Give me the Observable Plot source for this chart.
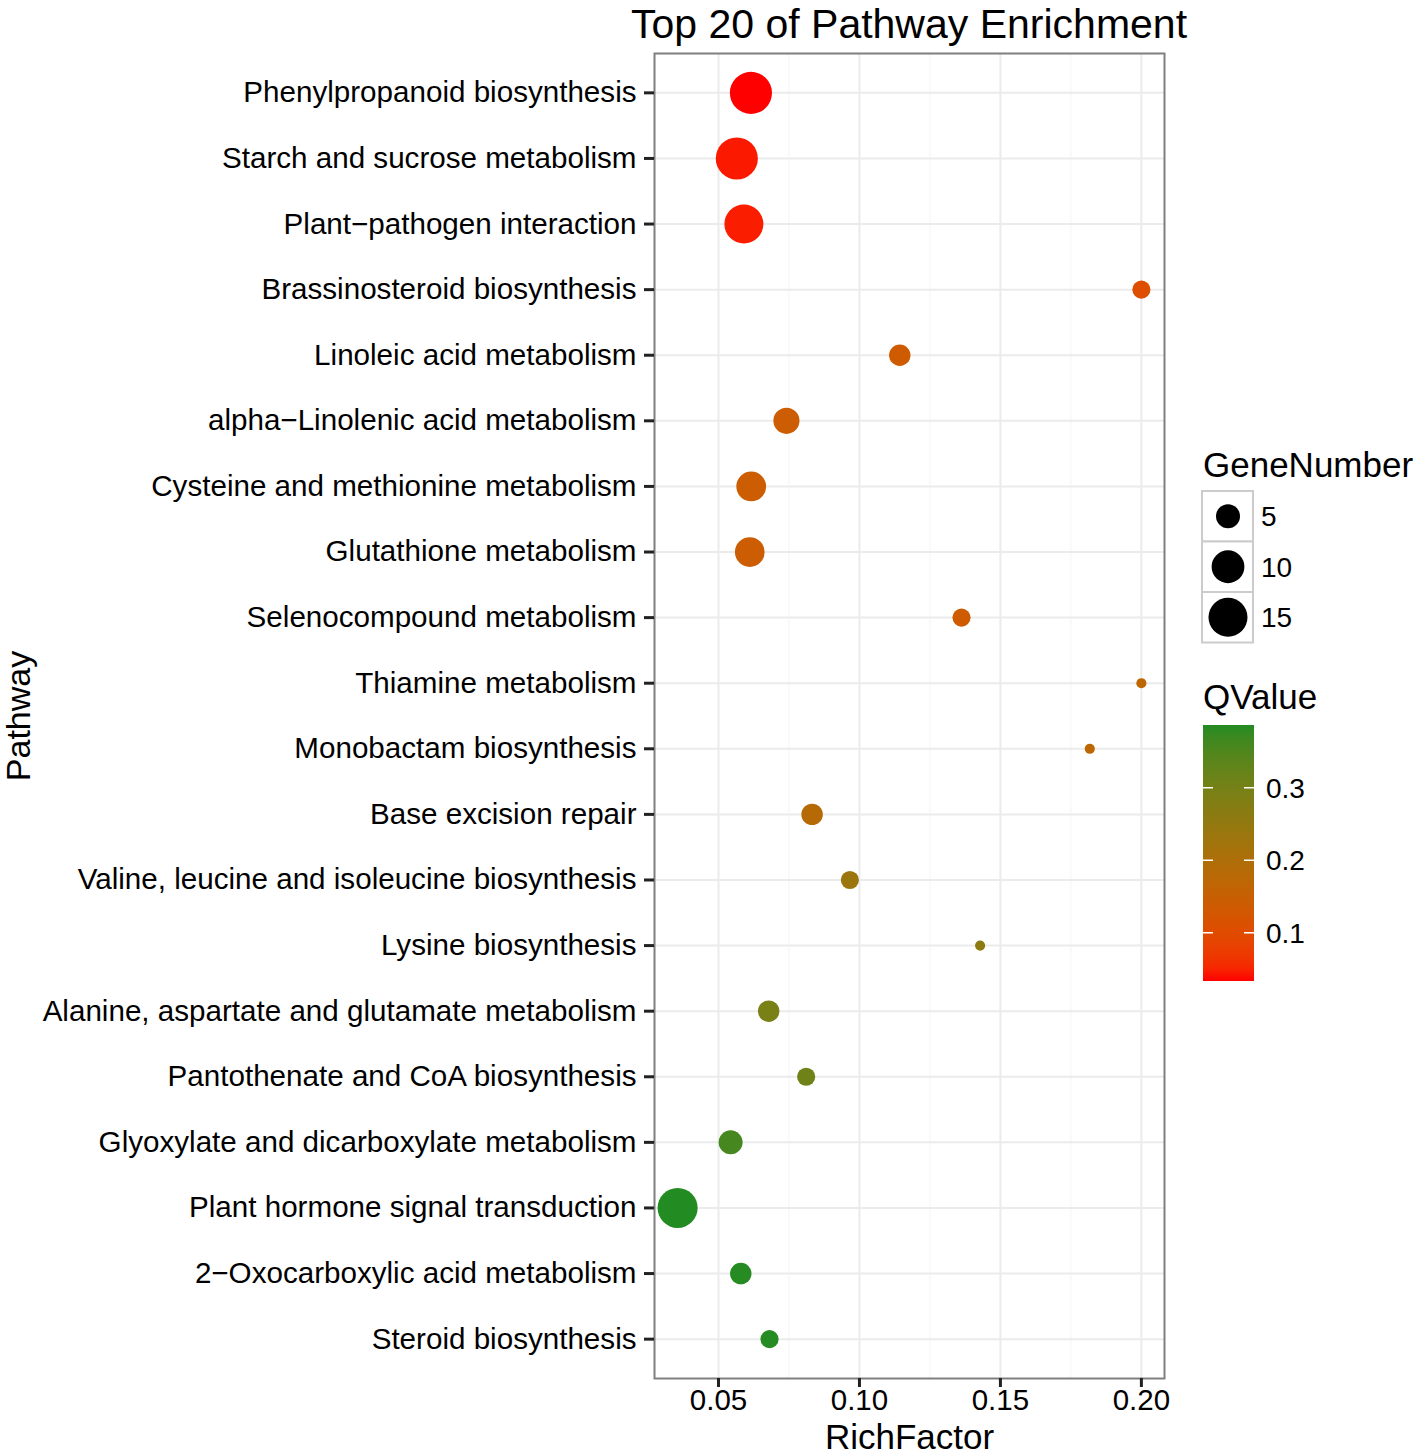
<!DOCTYPE html>
<html><head><meta charset="utf-8">
<script src="https://cdn.jsdelivr.net/npm/d3@7"></script>
<script src="https://cdn.jsdelivr.net/npm/@observablehq/plot@0.6"></script>
<style>
body{margin:0;background:#fff;}
#wrap{position:relative;width:1418px;height:1456px;font-family:"Liberation Sans",Arial,Helvetica,sans-serif;}
#wrap svg{position:absolute;left:0;top:0;}
</style></head><body>
<div id="wrap"></div>
<script>
const chartTitle = "Top 20 of Pathway Enrichment";
const pathways = [
  "Phenylpropanoid biosynthesis",
  "Starch and sucrose metabolism",
  "Plant\u2212pathogen interaction",
  "Brassinosteroid biosynthesis",
  "Linoleic acid metabolism",
  "alpha\u2212Linolenic acid metabolism",
  "Cysteine and methionine metabolism",
  "Glutathione metabolism",
  "Selenocompound metabolism",
  "Thiamine metabolism",
  "Monobactam biosynthesis",
  "Base excision repair",
  "Valine, leucine and isoleucine biosynthesis",
  "Lysine biosynthesis",
  "Alanine, aspartate and glutamate metabolism",
  "Pantothenate and CoA biosynthesis",
  "Glyoxylate and dicarboxylate metabolism",
  "Plant hormone signal transduction",
  "2\u2212Oxocarboxylic acid metabolism",
  "Steroid biosynthesis"
];
const richFactor = [0.0615,0.0565,0.0590,0.2000,0.1143,0.0741,0.0616,0.0611,0.1362,0.2000,
                    0.1817,0.0832,0.0966,0.1428,0.0678,0.0811,0.0543,0.0355,0.0579,0.0681];
const geneNumber = [18,18,15,3,4,6,8,8,3,2,2,4,3,2,4,3,5,16,4,3];
const qValue = [0.0335,0.042,0.044,0.105,0.135,0.140,0.140,0.140,0.135,0.170,
                0.170,0.185,0.235,0.260,0.295,0.310,0.360,0.3865,0.385,0.385];
const xTicks = [0.05,0.10,0.15,0.20];
const xMinor = [0.075,0.125,0.175];
const sizeBreaks = [5,10,15];
const qBreaks = [0.1,0.2,0.3];

const data = pathways.map((p,i)=>({pathway:p, rich:richFactor[i], genes:geneNumber[i], q:qValue[i]}));
const minGenes = d3.min(geneNumber), maxGenes = d3.max(geneNumber);
const font = "Liberation Sans, Arial, Helvetica, sans-serif";

const plot = Plot.plot({
  width:1418, height:1456,
  marginLeft:654, marginRight:254, marginTop:53, marginBottom:78,
  style:{fontFamily:font, background:"transparent", color:"black"},
  x:{domain:[0.0273,0.2082]},
  y:{type:"point", domain:pathways, padding:0.6, round:false},
  r:{type:"sqrt", domain:[0, maxGenes-minGenes], range:[5.07,21.07]},
  color:{type:"linear", domain:d3.extent(qValue), range:["#FF0000","#228B22"], interpolate:d3.interpolateLab},
  marks:[
    Plot.gridX(xMinor, {stroke:"#f4f4f4", strokeOpacity:1, strokeWidth:1}),
    Plot.gridX(xTicks, {stroke:"#ebebeb", strokeOpacity:1, strokeWidth:2}),
    Plot.gridY({stroke:"#ebebeb", strokeOpacity:1, strokeWidth:2}),
    Plot.dot(data, {x:"rich", y:"pathway", r:d=>d.genes-minGenes+1e-6, fill:"q"}),
    Plot.frame({stroke:"#7f7f7f", strokeWidth:2}),
    Plot.axisX(xTicks, {tickFormat:d3.format(".2f"), fontSize:29.5, tickSize:9, tickPadding:2, strokeWidth:3, stroke:"#222", label:null}),
    Plot.axisY({fontSize:29.6, tickSize:10, tickPadding:8, strokeWidth:3, stroke:"#222", label:null}),
    Plot.text(["RichFactor"], {frameAnchor:"bottom", dy:59, lineAnchor:"middle", fontSize:35, fill:"black"}),
    Plot.text(["Pathway"], {frameAnchor:"left", dx:-635, rotate:-90, textAnchor:"middle", lineAnchor:"middle", fontSize:34, fill:"black"})
  ]
});

const wrap = document.getElementById("wrap");
wrap.appendChild(plot);

const rScale = plot.scale("r"), cScale = plot.scale("color");
const ov = d3.create("svg").attr("width",1418).attr("height",1456)
  .style("pointer-events","none").style("font-family",font);

ov.append("text").attr("x",909).attr("y",38).attr("text-anchor","middle")
  .attr("font-size",41).attr("fill","black").text(chartTitle);

// GeneNumber legend
ov.append("text").attr("x",1203).attr("y",477).attr("font-size",35).text("GeneNumber");
sizeBreaks.forEach((n,i)=>{
  const y0 = 491 + i*50.5, cy = y0 + 25.25;
  ov.append("rect").attr("x",1202).attr("y",y0).attr("width",51).attr("height",50.5)
    .attr("fill","white").attr("stroke","#cccccc").attr("stroke-width",2);
  ov.append("circle").attr("cx",1228).attr("cy",cy).attr("r",rScale.apply(n-minGenes)).attr("fill","black");
  ov.append("text").attr("x",1261).attr("y",cy).attr("dy","0.36em").attr("font-size",28).text(n);
});

// QValue legend
ov.append("text").attr("x",1203).attr("y",709).attr("font-size",35).text("QValue");
const [qmin,qmax] = cScale.domain;
const barTop = 725, barBot = 981, barX = 1203, barW = 51;
const grad = ov.append("defs").append("linearGradient").attr("id","qgrad")
  .attr("x1",0).attr("y1",1).attr("x2",0).attr("y2",0);
d3.range(21).forEach(k=>{
  const t = k/20;
  grad.append("stop").attr("offset",t).attr("stop-color",cScale.apply(qmin + t*(qmax-qmin)));
});
ov.append("rect").attr("x",barX).attr("y",barTop).attr("width",barW).attr("height",barBot-barTop).attr("fill","url(#qgrad)");
const yq = d3.scaleLinear().domain([qmin,qmax]).range([barBot,barTop]);
qBreaks.forEach(v=>{
  const y = yq(v);
  ov.append("line").attr("x1",barX).attr("x2",barX+10).attr("y1",y).attr("y2",y).attr("stroke","white").attr("stroke-width",1.5);
  ov.append("line").attr("x1",barX+barW-10).attr("x2",barX+barW).attr("y1",y).attr("y2",y).attr("stroke","white").attr("stroke-width",1.5);
  ov.append("text").attr("x",1266).attr("y",y).attr("dy","0.36em").attr("font-size",28).text(d3.format(".1f")(v));
});
wrap.appendChild(ov.node());
</script>
</body></html>
